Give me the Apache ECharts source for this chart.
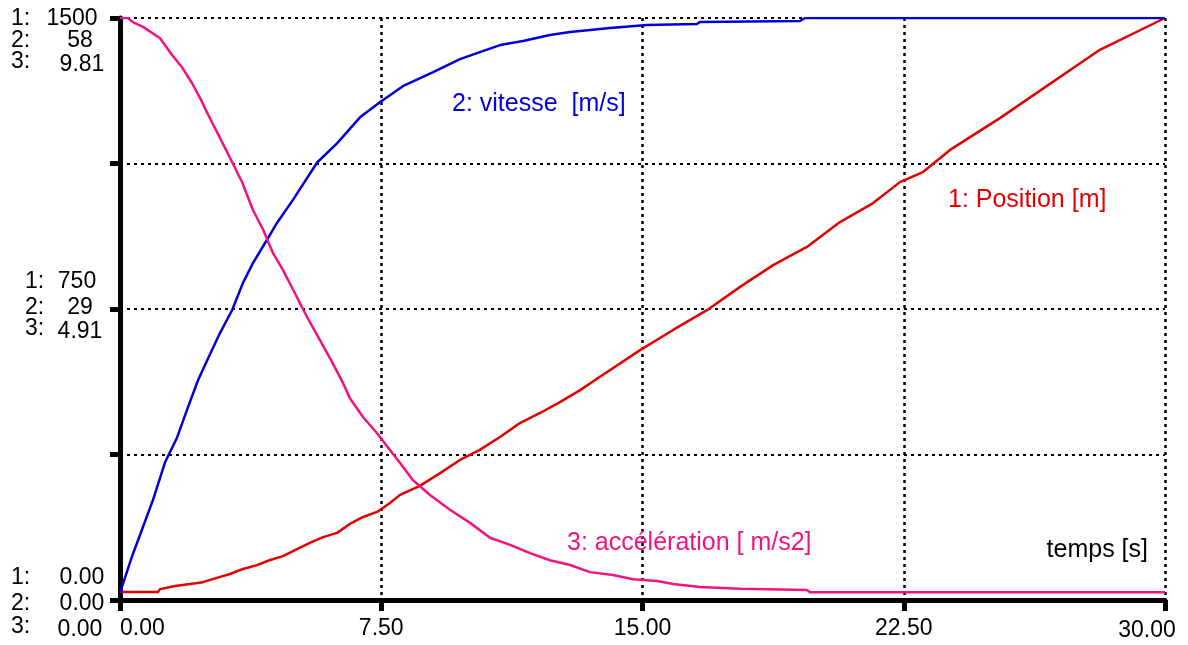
<!DOCTYPE html>
<html>
<head>
<meta charset="utf-8">
<script src="https://cdn.jsdelivr.net/npm/echarts@6/dist/echarts.min.js"></script>
<style>
  html, body { margin: 0; padding: 0; background: #fff; }
  #chart { width: 1188px; height: 645px; }
</style>
</head>
<body>
<div id="chart"></div>
<script>
// temps [s] / valeur
let positionData = [
  [0, 20.6], [1.09, 20.6], [1.15, 28], [1.58, 36], [2.01, 41], [2.38, 46], [2.78, 57],
  [3.16, 67], [3.53, 80], [3.93, 90], [4.31, 103], [4.68, 113], [5.08, 131], [5.45, 147],
  [5.83, 162], [6.23, 173], [6.60, 196], [6.98, 214], [7.38, 227], [7.75, 250], [8.04, 271],
  [8.61, 294], [9.19, 327], [9.76, 361], [10.33, 387], [10.91, 420], [11.48, 456],
  [12.06, 482], [12.63, 510], [13.21, 541], [13.64, 567], [14.93, 644], [15.88, 696],
  [16.85, 747], [17.80, 807], [18.75, 863], [19.72, 910], [20.67, 974], [21.62, 1023],
  [22.39, 1077], [23.05, 1103], [23.83, 1160], [25.26, 1242], [28.13, 1418], [30, 1500]
];
let vitesseData = [
  [0, 0.7], [0.34, 4.3], [0.63, 7.0], [0.95, 10.0], [1.29, 13.7], [1.64, 16.2], [1.95, 19.2],
  [2.24, 21.9], [2.53, 24.1], [2.87, 26.6], [3.22, 28.9], [3.53, 31.6], [3.82, 33.6],
  [4.22, 35.9], [4.51, 37.6], [4.97, 39.9], [5.66, 43.6], [6.23, 45.5], [6.89, 48.1],
  [7.46, 49.6], [8.12, 51.2], [8.99, 52.6], [9.76, 53.9], [10.33, 54.6], [10.91, 55.3],
  [11.57, 55.7], [12.34, 56.3], [12.92, 56.6], [14.07, 57.0], [15.13, 57.3], [16.56, 57.4],
  [16.65, 57.6], [19.52, 57.7], [19.67, 58.0], [30, 58.0]
];
let accelerationData = [
  [0, 9.81], [0.23, 9.81], [0.37, 9.74], [0.66, 9.66], [1.15, 9.47], [1.49, 9.19], [1.78, 8.98],
  [2.07, 8.71], [2.30, 8.46], [2.53, 8.18], [2.87, 7.79], [3.16, 7.45], [3.50, 7.05],
  [3.82, 6.57], [4.11, 6.24], [4.39, 5.85], [4.68, 5.56], [4.97, 5.23], [5.22, 4.94],
  [5.37, 4.77], [5.74, 4.38], [6.09, 4.01], [6.40, 3.66], [6.60, 3.40], [6.98, 3.08],
  [7.38, 2.81], [7.75, 2.53], [8.04, 2.31], [8.41, 2.02], [8.90, 1.77], [9.47, 1.52],
  [10.05, 1.30], [10.62, 1.05], [11.20, 0.93], [11.77, 0.79], [12.34, 0.67], [12.92, 0.59],
  [13.49, 0.47], [14.15, 0.42], [14.73, 0.35], [15.42, 0.32], [15.88, 0.27], [16.65, 0.22],
  [17.80, 0.19], [19.72, 0.17], [19.81, 0.13], [30, 0.13]
];

// graduations des trois echelles (bas, milieu, haut)
let tickValues = [0, 750, 1500];
let positionLabels = ['0.00', '750', '1500'];
let vitesseLabels = ['0.00', '29', '58'];
let accelerationLabels = ['0.00', '4.91', '9.81'];

let colors = { position: '#e30000', vitesse: '#0000dc', acceleration: '#f5127e' };
let font = '"Liberation Sans", Arial, sans-serif';
let dotted = [3, 4];

let myChart = echarts.init(document.getElementById('chart'));

let hiddenAxis = function (max) {
  return { type: 'value', min: 0, max: max, show: false, splitLine: { show: false } };
};

myChart.setOption({
  backgroundColor: '#ffffff',
  animation: false,
  grid: { left: 120, right: 23, top: 18, bottom: 45 },
  xAxis: {
    type: 'value',
    min: 0,
    max: 30,
    interval: 7.5,
    axisLine: { lineStyle: { color: '#000', width: 5 } },
    axisTick: { length: 11, lineStyle: { color: '#000', width: 5 } },
    axisLabel: {
      color: '#000', fontFamily: font, fontSize: 23, margin: 17,
      alignMinLabel: 'left',
      formatter: function (v) { return v === 30 ? '' : v.toFixed(2); }
    },
    splitLine: { show: true, lineStyle: { color: '#000', width: 2.5, type: dotted } }
  },
  yAxis: [
    {
      type: 'value',
      min: 0,
      max: 1500,
      interval: 375,
      axisLine: { show: true, lineStyle: { color: '#000', width: 5 } },
      axisTick: { show: true, length: 10, lineStyle: { color: '#000', width: 5 } },
      axisLabel: { show: false },
      splitLine: { show: true, lineStyle: { color: '#000', width: 2, type: dotted } }
    },
    hiddenAxis(58),
    hiddenAxis(9.81)
  ],
  series: [
    {
      name: '1: Position [m]', type: 'line', yAxisIndex: 0, data: positionData,
      showSymbol: false, lineStyle: { color: colors.position, width: 2.5 }, z: 3
    },
    {
      name: '2: vitesse  [m/s]', type: 'line', yAxisIndex: 1, data: vitesseData,
      showSymbol: false, lineStyle: { color: colors.vitesse, width: 2.5 }, z: 3
    },
    {
      name: '3: accélération [ m/s2]', type: 'line', yAxisIndex: 2, data: accelerationData,
      showSymbol: false, lineStyle: { color: colors.acceleration, width: 2.5 }, z: 3
    }
  ]
});

// etiquettes de l'axe vertical, trois lignes par graduation
// [x centre, decalage y] pour 1:, 2:, 3:
let labelLayout = [
  { px: 11, rows: [[82, -22], [82, 4], [80, 30]] },
  { px: 25, rows: [[77, -27], [80, -1], [80, 23]] },
  { px: 11, rows: [[72, 1], [80, 23], [82, 47]] }
];
let graphic = [];
tickValues.forEach(function (v, i) {
  let y = myChart.convertToPixel({ yAxisIndex: 0 }, v);
  let texts = [positionLabels[i], vitesseLabels[i], accelerationLabels[i]];
  let lay = labelLayout[i];
  texts.forEach(function (t, k) {
    let ry = y + lay.rows[k][1];
    graphic.push({
      type: 'text', x: lay.px, y: ry - (k === 2 ? 3 : 0),
      style: { text: (k + 1) + ':', font: '23px ' + font, fill: '#000', verticalAlign: 'middle', align: 'left' }
    });
    graphic.push({
      type: 'text', x: lay.rows[k][0], y: ry,
      style: { text: t, font: '23px ' + font, fill: '#000', verticalAlign: 'middle', align: 'center' }
    });
  });
});

// derniere graduation du temps, decalee vers la gauche comme dans l'original
let xEnd = myChart.convertToPixel({ xAxisIndex: 0 }, 30);
let yBase = myChart.convertToPixel({ yAxisIndex: 0 }, 0);
graphic.push({
  type: 'text', x: xEnd - 18, y: yBase + 31,
  style: { text: (30).toFixed(2), font: '23px ' + font, fill: '#000', verticalAlign: 'middle', align: 'center' }
});

// noms des courbes
graphic.push(
  { type: 'text', x: 452, y: 104, style: { text: '2: vitesse  [m/s]', font: '25px ' + font, fill: colors.vitesse, verticalAlign: 'middle' } },
  { type: 'text', x: 948, y: 200, style: { text: '1: Position [m]', font: '25px ' + font, fill: colors.position, verticalAlign: 'middle' } },
  { type: 'text', x: 567, y: 543, style: { text: '3: accélération [ m/s2]', font: '25px ' + font, fill: colors.acceleration, verticalAlign: 'middle' } },
  { type: 'text', x: 1148, y: 550, style: { text: 'temps [s]', font: '25px ' + font, fill: '#000', verticalAlign: 'middle', align: 'right' } }
);

myChart.setOption({ graphic: graphic });
</script>
</body>
</html>
